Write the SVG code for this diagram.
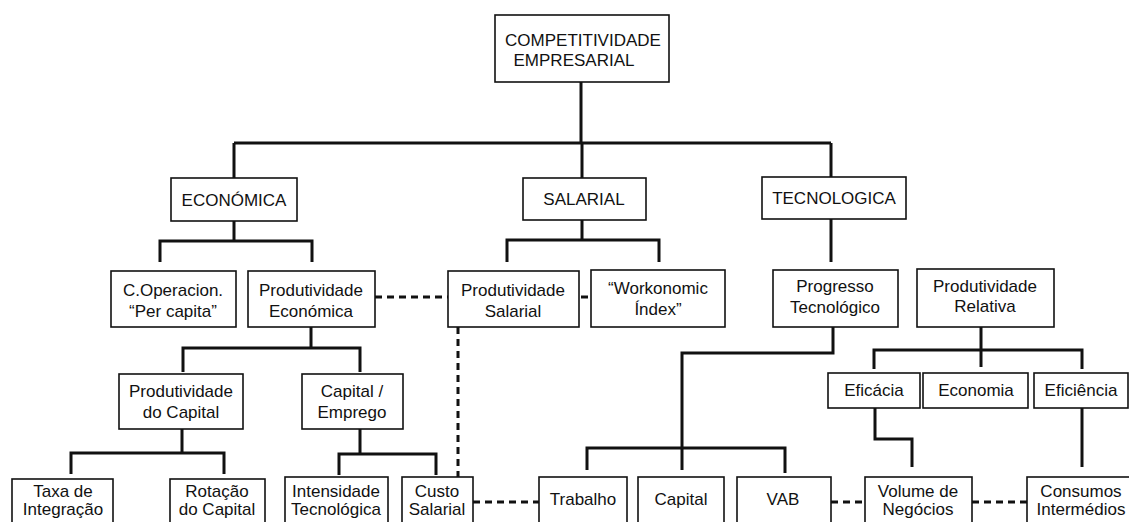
<svg xmlns="http://www.w3.org/2000/svg" width="1129" height="522" viewBox="0 0 1129 522">
<style>
.box{fill:#fff;stroke:#111;stroke-width:1.6}
text{font-family:"Liberation Sans",Arial,sans-serif;font-size:17px;fill:#111;text-anchor:middle}
.s{fill:none;stroke:#111;stroke-width:3}
.d{fill:none;stroke:#111;stroke-width:3;stroke-dasharray:7 5}
</style>
<rect width="1129" height="522" fill="#fff"/>
<g id="connectors">
<path class="s" d="M581 82V143M234 143H831M234 143V178M582 143V178M831 143V177"/>
<path class="s" d="M234 221V241M160 262V241H312V262"/>
<path class="s" d="M582 220V240M507 262V240H659V262"/>
<path class="s" d="M831 219V262"/>
<path class="s" d="M311 327V348M183 372V348H360V372"/>
<path class="s" d="M182 429V453M71 474V453H224V474"/>
<path class="s" d="M360 429V454M339 475V454H436V475"/>
<path class="s" d="M833 327V353H682V470M587 470V448H785V473"/>
<path class="s" d="M981 327V367M874 369V350H1082V369"/>
<path class="s" d="M875 408V439H912V467"/>
<path class="s" d="M1082 408V467"/>
<path class="d" d="M375 297H448"/>
<path class="d" d="M581 297H589"/>
<path class="d" d="M458 327V477"/>
<path class="d" d="M473 502H539"/>
<path class="d" d="M831 502H865"/>
<path class="d" d="M972 502H1027"/>
</g>
<g id="n-top"><rect class="box" x="495" y="15" width="174" height="67"/><text x="583" y="46">COMPETITIVIDADE</text><text x="574" y="66">EMPRESARIAL</text></g>
<g id="n-economica"><rect class="box" x="171" y="178" width="126" height="43"/><text x="234" y="206">ECONÓMICA</text></g>
<g id="n-salarial"><rect class="box" x="523" y="178" width="123" height="42"/><text x="584" y="205">SALARIAL</text></g>
<g id="n-tecnologica"><rect class="box" x="762" y="177" width="144" height="42"/><text x="834" y="204">TECNOLOGICA</text></g>
<g id="n-coperacion"><rect class="box" x="111" y="271" width="125" height="56"/><text x="173" y="296">C.Operacion.</text><text x="173" y="317">“Per capita”</text></g>
<g id="n-prodecon"><rect class="box" x="248" y="271" width="127" height="56"/><text x="311" y="296">Produtividade</text><text x="311" y="317">Económica</text></g>
<g id="n-prodsal"><rect class="box" x="448" y="271" width="131" height="56"/><text x="513" y="296">Produtividade</text><text x="513" y="317">Salarial</text></g>
<g id="n-workonomic"><rect class="box" x="591" y="270" width="134" height="57"/><text x="658" y="294">“Workonomic</text><text x="658" y="315">Índex”</text></g>
<g id="n-progresso"><rect class="box" x="773" y="270" width="125" height="57"/><text x="835" y="292">Progresso</text><text x="835" y="313">Tecnológico</text></g>
<g id="n-prodrel"><rect class="box" x="917" y="269" width="137" height="58"/><text x="985" y="292">Produtividade</text><text x="985" y="312">Relativa</text></g>
<g id="n-prodcap"><rect class="box" x="119" y="374" width="124" height="55"/><text x="181" y="397">Produtividade</text><text x="181" y="418">do Capital</text></g>
<g id="n-capemp"><rect class="box" x="302" y="374" width="101" height="55"/><text x="352" y="397">Capital /</text><text x="352" y="418">Emprego</text></g>
<g id="n-eficacia"><rect class="box" x="828" y="373" width="92" height="35"/><text x="874" y="396">Eficácia</text></g>
<g id="n-economia"><rect class="box" x="923" y="373" width="105" height="35"/><text x="976" y="396">Economia</text></g>
<g id="n-eficiencia"><rect class="box" x="1034" y="373" width="94" height="35"/><text x="1081" y="396">Eficiência</text></g>
<g id="n-taxa"><rect class="box" x="12" y="479" width="101" height="60"/><text x="63" y="497">Taxa de</text><text x="63" y="515">Integração</text></g>
<g id="n-rotacao"><rect class="box" x="170" y="479" width="95" height="60"/><text x="217" y="497">Rotação</text><text x="217" y="515">do Capital</text></g>
<g id="n-intensidade"><rect class="box" x="285" y="477" width="103" height="60"/><text x="336" y="497">Intensidade</text><text x="336" y="515">Tecnológica</text></g>
<g id="n-custo"><rect class="box" x="402" y="477" width="71" height="60"/><text x="437" y="497">Custo</text><text x="437" y="515">Salarial</text></g>
<g id="n-trabalho"><rect class="box" x="539" y="477" width="88" height="60"/><text x="583" y="505">Trabalho</text></g>
<g id="n-capital"><rect class="box" x="638" y="477" width="86" height="60"/><text x="681" y="505">Capital</text></g>
<g id="n-vab"><rect class="box" x="737" y="477" width="94" height="60"/><text x="783" y="505">VAB</text></g>
<g id="n-volume"><rect class="box" x="865" y="477" width="107" height="60"/><text x="918" y="497">Volume de</text><text x="918" y="515">Negócios</text></g>
<g id="n-consumos"><rect class="box" x="1027" y="477" width="112" height="60"/><text x="1081" y="497">Consumos</text><text x="1081" y="515">Intermédios</text></g>
</svg>
